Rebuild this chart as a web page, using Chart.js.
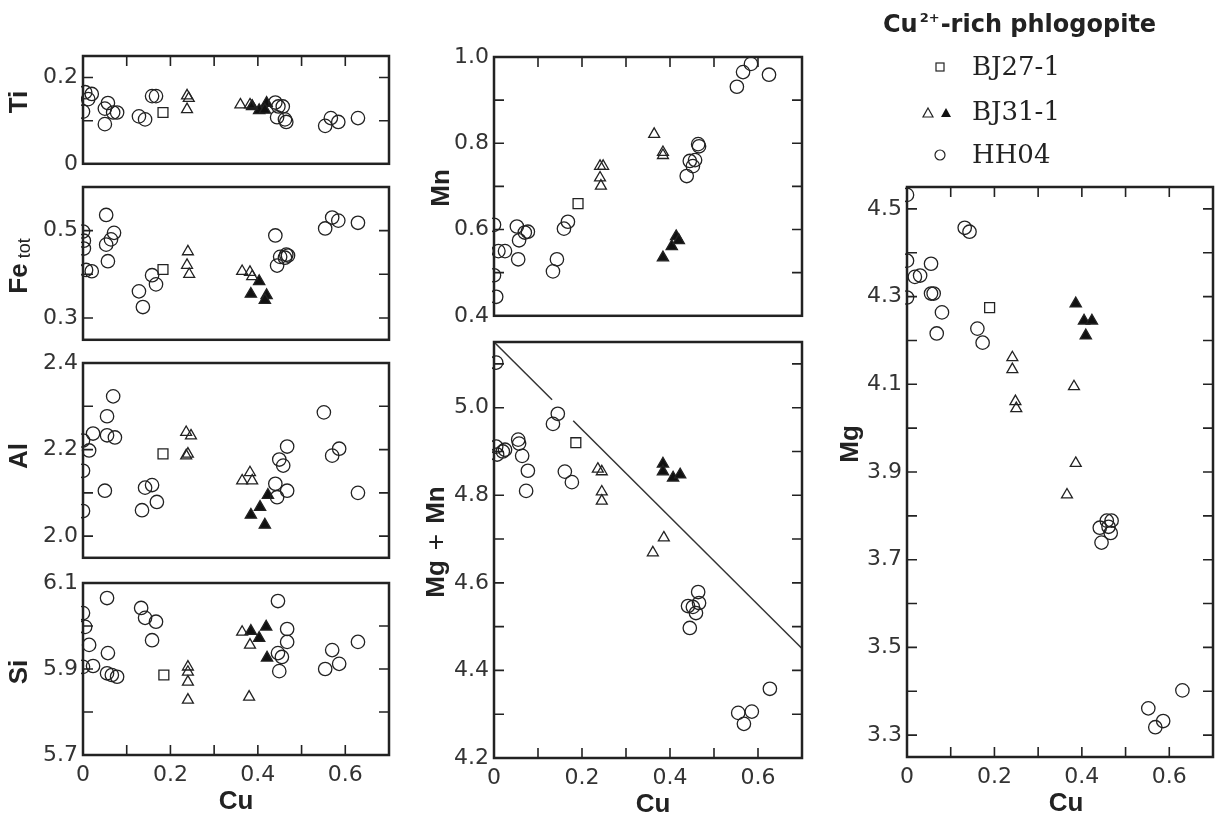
<!DOCTYPE html>
<html>
<head>
<meta charset="utf-8">
<script src="https://cdn.jsdelivr.net/npm/chart.js@4.4.1/dist/chart.umd.min.js"></script>
<style>
  body { margin: 0; background: #fff; width: 1223px; height: 820px; overflow: hidden; position: relative; }
  canvas { position: absolute; }
</style>
</head>
<body>
<canvas id="ti"></canvas>
<canvas id="fe"></canvas>
<canvas id="al"></canvas>
<canvas id="si"></canvas>
<canvas id="mn"></canvas>
<canvas id="mgmn"></canvas>
<canvas id="mg"></canvas>
<script>
// Cu axis (shared by every panel)
const cuTicks  = [0, 0.1, 0.2, 0.3, 0.4, 0.5, 0.6, 0.7];
const cuLabels = ['0', '', '0.2', '', '0.4', '', '0.6', ''];

// y tick values and labels per panel
const tiTicks = [0, 0.1, 0.2];                 const tiLabels = ['0', '', '0.2'];
const feTicks = [0.3, 0.4, 0.5];               const feLabels = ['0.3', '', '0.5'];
const alTicks = [2.0, 2.1, 2.2, 2.3, 2.4];     const alLabels = ['2.0', '', '2.2', '', '2.4'];
const siTicks = [5.7, 5.8, 5.9, 6.0, 6.1];     const siLabels = ['5.7', '', '5.9', '', '6.1'];
const mnTicks = [0.4, 0.5, 0.6, 0.7, 0.8, 0.9, 1.0];
const mnLabels = ['0.4', '', '0.6', '', '0.8', '', '1.0'];
const mgmnTicks = [4.2, 4.3, 4.4, 4.5, 4.6, 4.7, 4.8, 4.9, 5.0, 5.1];
const mgmnLabels = ['4.2', '', '4.4', '', '4.6', '', '4.8', '', '5.0', ''];
const mgTicks = [3.3, 3.4, 3.5, 3.6, 3.7, 3.8, 3.9, 4.0, 4.1, 4.2, 4.3, 4.4, 4.5];
const mgLabels = ['3.3', '', '3.5', '', '3.7', '', '3.9', '', '4.1', '', '4.3', '', '4.5'];

// Ti
const tiHH04 = [[0.005,0.166],[0.02,0.162],[0.012,0.15],[0,0.121],[0.057,0.141],[0.05,0.128],[0.069,0.119],[0.078,0.119],[0.05,0.092],[0.128,0.11],[0.142,0.103],[0.158,0.157],[0.167,0.157],[0.44,0.142],[0.457,0.133],[0.447,0.133],[0.444,0.108],[0.465,0.097],[0.462,0.103],[0.554,0.088],[0.567,0.106],[0.584,0.097],[0.629,0.106]];
const tiBJ27 = [[0.183,0.119]];
const tiBJ31open = [[0.238,0.158],[0.242,0.152],[0.238,0.126],[0.36,0.137],[0.382,0.137],[0.387,0.134]];
const tiBJ31fill = [[0.387,0.133],[0.403,0.124],[0.42,0.141],[0.416,0.125]];

// Fe tot
const feHH04 = [[0,0.498],[0.002,0.477],[0.002,0.459],[0.007,0.41],[0.02,0.407],[0.053,0.536],[0.071,0.495],[0.064,0.48],[0.053,0.468],[0.057,0.43],[0.128,0.361],[0.137,0.325],[0.158,0.398],[0.167,0.377],[0.44,0.489],[0.444,0.42],[0.451,0.44],[0.465,0.445],[0.462,0.438],[0.469,0.443],[0.554,0.505],[0.57,0.53],[0.584,0.523],[0.629,0.518]];
const feBJ27 = [[0.183,0.411]];
const feBJ31open = [[0.24,0.452],[0.238,0.421],[0.243,0.4],[0.364,0.407],[0.382,0.405],[0.387,0.395]];
const feBJ31fill = [[0.403,0.384],[0.384,0.355],[0.42,0.352],[0.416,0.341]];

// Al
const alHH04 = [[0,2.221],[0.014,2.198],[0,2.151],[0,2.058],[0.023,2.237],[0.069,2.323],[0.055,2.277],[0.055,2.233],[0.073,2.228],[0.05,2.105],[0.135,2.06],[0.142,2.112],[0.158,2.118],[0.169,2.079],[0.467,2.207],[0.449,2.177],[0.458,2.163],[0.44,2.121],[0.444,2.09],[0.467,2.105],[0.551,2.286],[0.57,2.186],[0.586,2.202],[0.629,2.1]];
const alBJ27 = [[0.183,2.19]];
const alBJ31open = [[0.236,2.24],[0.247,2.232],[0.236,2.186],[0.24,2.19],[0.364,2.128],[0.382,2.147],[0.387,2.128]];
const alBJ31fill = [[0.384,2.049],[0.405,2.067],[0.423,2.095],[0.416,2.026]];

// Si
const siHH04 = [[0,6.03],[0.005,5.998],[0.014,5.956],[0,5.905],[0.023,5.907],[0.055,6.065],[0.057,5.937],[0.055,5.89],[0.066,5.886],[0.078,5.882],[0.133,6.042],[0.142,6.019],[0.167,6.01],[0.158,5.967],[0.446,6.058],[0.467,5.993],[0.467,5.963],[0.446,5.937],[0.455,5.928],[0.449,5.895],[0.554,5.9],[0.57,5.944],[0.586,5.912],[0.629,5.963]];
const siBJ27 = [[0.185,5.886]];
const siBJ31open = [[0.24,5.905],[0.24,5.893],[0.24,5.87],[0.24,5.828],[0.364,5.986],[0.382,5.956],[0.38,5.835]];
const siBJ31fill = [[0.384,5.988],[0.403,5.972],[0.419,5.998],[0.421,5.926]];

// Mn
const mnHH04 = [[0,0.611],[0,0.494],[0.005,0.444],[0.01,0.55],[0.025,0.55],[0.052,0.607],[0.055,0.531],[0.057,0.575],[0.07,0.593],[0.077,0.595],[0.134,0.503],[0.143,0.531],[0.159,0.602],[0.168,0.618],[0.438,0.724],[0.445,0.759],[0.452,0.747],[0.457,0.761],[0.464,0.798],[0.466,0.793],[0.552,0.931],[0.566,0.965],[0.584,0.984],[0.625,0.959]];
const mnBJ27 = [[0.191,0.66]];
const mnBJ31open = [[0.241,0.747],[0.248,0.747],[0.241,0.72],[0.243,0.701],[0.364,0.821],[0.384,0.779],[0.384,0.772]];
const mnBJ31fill = [[0.384,0.535],[0.404,0.561],[0.414,0.584],[0.42,0.575]];

// Mg + Mn
const mgmnHH04 = [[0.005,5.103],[0.005,4.911],[0.007,4.893],[0.02,4.9],[0.025,4.904],[0.055,4.927],[0.057,4.918],[0.064,4.89],[0.077,4.856],[0.073,4.81],[0.134,4.963],[0.145,4.986],[0.161,4.854],[0.177,4.83],[0.464,4.579],[0.466,4.554],[0.441,4.547],[0.452,4.545],[0.459,4.531],[0.445,4.497],[0.555,4.303],[0.568,4.278],[0.586,4.306],[0.627,4.358]];
const mgmnBJ27 = [[0.186,4.92]];
const mgmnBJ31open = [[0.236,4.86],[0.245,4.854],[0.245,4.808],[0.245,4.787],[0.361,4.669],[0.386,4.703]];
const mgmnBJ31fill = [[0.384,4.872],[0.384,4.854],[0.407,4.84],[0.423,4.847]];
const mgmnLineA = [[0,5.15],[0.132,5.018]];
const mgmnLineB = [[0.18,4.97],[0.7,4.45]];

// Mg
const mgHH04 = [[0,4.532],[0,4.382],[0,4.298],[0.018,4.345],[0.03,4.348],[0.055,4.375],[0.055,4.307],[0.061,4.307],[0.08,4.264],[0.068,4.216],[0.132,4.457],[0.143,4.448],[0.161,4.227],[0.173,4.195],[0.457,3.789],[0.468,3.789],[0.441,3.773],[0.461,3.775],[0.466,3.761],[0.445,3.739],[0.552,3.361],[0.568,3.318],[0.586,3.332],[0.63,3.402]];
const mgBJ27 = [[0.189,4.275]];
const mgBJ31open = [[0.241,4.161],[0.241,4.134],[0.248,4.061],[0.25,4.045],[0.382,4.095],[0.386,3.92],[0.366,3.848]];
const mgBJ31fill = [[0.386,4.284],[0.405,4.245],[0.423,4.245],[0.409,4.211]];

const INK = '#222';
const LABEL_INK = '#333';
const SANS = '"DejaVu Sans", sans-serif';
const BOLD = 'bold 26px "Liberation Sans", Arial, sans-serif';
const TICK_LEN = 10;

const pts = a => a.map(([x, y]) => ({ x, y }));

// Scatter series in the same order for every panel
function markers(hh04, bj27, open, fill) {
    const base = { borderColor: INK, borderWidth: 1.3, clip: 2 };
    return [
        { ...base, data: pts(hh04), pointStyle: 'circle', pointRadius: 6.7, backgroundColor: 'rgba(0,0,0,0)' },
        { ...base, data: pts(bj27), pointStyle: 'rect', pointRadius: 7, backgroundColor: 'rgba(0,0,0,0)' },
        { ...base, data: pts(open), pointStyle: 'triangle', pointRadius: 6.3, backgroundColor: 'rgba(0,0,0,0)' },
        { ...base, data: pts(fill), pointStyle: 'triangle', pointRadius: 6.5, backgroundColor: '#111' }
    ];
}

// Vertical (rotated) axis title, made of parts so Fe can carry its subscript
function verticalTitle(ctx, parts, cx, cy) {
    ctx.save();
    ctx.translate(cx, cy);
    ctx.rotate(-Math.PI / 2);
    ctx.fillStyle = INK;
    ctx.textBaseline = 'middle';
    ctx.textAlign = 'left';
    let total = 0;
    parts.forEach(p => { ctx.font = p.font; p.w = ctx.measureText(p.text).width; total += p.w + (p.gap || 0); });
    let x = -total / 2;
    parts.forEach(p => { ctx.font = p.font; x += (p.gap || 0); ctx.fillText(p.text, x, p.dy || 0); x += p.w; });
    ctx.restore();
}

function makePanel(id, box, cfg) {
    const canvas = document.getElementById(id);
    const W = box.R - box.L + box.ml + box.mr;
    const H = box.B - box.T + box.mt + box.mb;
    canvas.width = W; canvas.height = H;
    canvas.style.left = (box.L - box.ml) + 'px';
    canvas.style.top = (box.T - box.mt) + 'px';
    canvas.style.width = W + 'px'; canvas.style.height = H + 'px';
    const ox = box.L - box.ml, oy = box.T - box.mt; // page offset of this canvas

    const framePlugin = {
        id: 'frame',
        afterDraw(chart) {
            const { ctx, chartArea: a, scales: { x, y } } = chart;
            ctx.save();
            ctx.strokeStyle = INK;
            ctx.lineWidth = 1.6;
            ctx.beginPath();
            cfg.yTicks.forEach(v => {
                const py = y.getPixelForValue(v);
                ctx.moveTo(a.left, py); ctx.lineTo(a.left + TICK_LEN, py);
                ctx.moveTo(a.right, py); ctx.lineTo(a.right - TICK_LEN, py);
            });
            cuTicks.forEach(v => {
                const px = x.getPixelForValue(v);
                if (cfg.topTicks) { ctx.moveTo(px, a.top); ctx.lineTo(px, a.top + TICK_LEN); }
                if (cfg.bottomTicks) { ctx.moveTo(px, a.bottom); ctx.lineTo(px, a.bottom - TICK_LEN); }
            });
            ctx.stroke();
            ctx.lineWidth = 2.5;
            ctx.strokeRect(a.left, a.top, a.right - a.left, a.bottom - a.top);

            verticalTitle(ctx, cfg.yTitle, cfg.yTitleAt[0] - ox, cfg.yTitleAt[1] - oy);
            if (cfg.xTitle) {
                ctx.fillStyle = INK;
                ctx.font = BOLD;
                ctx.textAlign = 'center';
                ctx.textBaseline = 'middle';
                ctx.fillText('Cu', (a.left + a.right) / 2 + (cfg.xTitleDx || 0), a.bottom + 47);
            }
            if (cfg.extraDraw) cfg.extraDraw(ctx, ox, oy);
            ctx.restore();
        }
    };

    return new Chart(canvas, {
        type: 'scatter',
        data: { datasets: (cfg.lines || []).concat(cfg.datasets) },
        options: {
            responsive: false,
            maintainAspectRatio: false,
            animation: false,
            events: [],
            layout: { padding: { left: 0, top: box.mt, right: box.mr, bottom: 0 } },
            plugins: { legend: { display: false }, tooltip: { enabled: false } },
            scales: {
                x: {
                    type: 'linear', min: 0, max: 0.7,
                    afterBuildTicks: s => { s.ticks = cuTicks.map(v => ({ value: v })); },
                    afterFit: s => { s.height = box.mb; },
                    grid: { display: false, drawTicks: false },
                    border: { display: false },
                    ticks: {
                        display: !!cfg.xTitle,
                        padding: 7,
                        color: LABEL_INK,
                        font: { family: SANS, size: 22 },
                        maxRotation: 0, autoSkip: false,
                        callback: (v, i) => cuLabels[i]
                    }
                },
                y: {
                    type: 'linear', min: cfg.yMin, max: cfg.yMax,
                    afterBuildTicks: s => { s.ticks = cfg.yTicks.map(v => ({ value: v })); },
                    afterFit: s => { s.width = box.ml; },
                    grid: { display: false, drawTicks: false },
                    border: { display: false },
                    ticks: {
                        padding: 5,
                        color: LABEL_INK,
                        font: { family: SANS, size: 22 },
                        autoSkip: false,
                        callback: (v, i) => cfg.yLabels[i]
                    }
                }
            }
        },
        plugins: [framePlugin]
    });
}

const titleFont = BOLD;
const leftBox = { L: 83, R: 389, ml: 83, mr: 10 };

makePanel('ti', { ...leftBox, T: 56, B: 166, mt: 20, mb: 16 }, {
    yMin: 0, yMax: 0.25, yTicks: tiTicks, yLabels: tiLabels, topTicks: true,
    yTitle: [{ text: 'Ti', font: titleFont }], yTitleAt: [20, 102],
    datasets: markers(tiHH04, tiBJ27, tiBJ31open, tiBJ31fill)
});

makePanel('fe', { ...leftBox, T: 187, B: 342, mt: 20, mb: 16 }, {
    yMin: 0.25, yMax: 0.6, yTicks: feTicks, yLabels: feLabels,
    yTitle: [{ text: 'Fe', font: titleFont }, { text: 'tot', font: '18px "Liberation Sans", Arial, sans-serif', dy: 5, gap: 5 }],
    yTitleAt: [20, 266],
    datasets: markers(feHH04, feBJ27, feBJ31open, feBJ31fill)
});

makePanel('al', { ...leftBox, T: 363, B: 560, mt: 20, mb: 16 }, {
    yMin: 1.95, yMax: 2.4, yTicks: alTicks, yLabels: alLabels,
    yTitle: [{ text: 'Al', font: titleFont }], yTitleAt: [20, 456],
    datasets: markers(alHH04, alBJ27, alBJ31open, alBJ31fill)
});

makePanel('si', { ...leftBox, T: 583, B: 755, mt: 20, mb: 65 }, {
    yMin: 5.7, yMax: 6.1, yTicks: siTicks, yLabels: siLabels, bottomTicks: true, xTitle: true,
    yTitle: [{ text: 'Si', font: titleFont }], yTitleAt: [20, 672],
    datasets: markers(siHH04, siBJ27, siBJ31open, siBJ31fill)
});

const midBox = { L: 494, R: 802, ml: 79, mr: 10 };

makePanel('mn', { ...midBox, T: 57, B: 318, mt: 20, mb: 16 }, {
    yMin: 0.4, yMax: 1.0, yTicks: mnTicks, yLabels: mnLabels, topTicks: true,
    yTitle: [{ text: 'Mn', font: titleFont }], yTitleAt: [442, 188],
    datasets: markers(mnHH04, mnBJ27, mnBJ31open, mnBJ31fill)
});

const lineStyle = { showLine: true, pointRadius: 0, borderColor: '#333', borderWidth: 1.5, clip: 0 };
makePanel('mgmn', { ...midBox, T: 342, B: 758, mt: 20, mb: 62 }, {
    yMin: 4.2, yMax: 5.15, yTicks: mgmnTicks, yLabels: mgmnLabels, bottomTicks: true, xTitle: true, xTitleDx: 5,
    yTitle: [
        { text: 'Mg', font: titleFont },
        { text: '+', font: '28px "Liberation Sans", Arial, sans-serif', gap: 10 },
        { text: 'Mn', font: titleFont, gap: 10 }
    ],
    yTitleAt: [437, 542],
    lines: [{ ...lineStyle, data: pts(mgmnLineA) }, { ...lineStyle, data: pts(mgmnLineB) }],
    datasets: markers(mgmnHH04, mgmnBJ27, mgmnBJ31open, mgmnBJ31fill)
});

// Legend sits above the Mg panel, drawn on its canvas
function drawLegend(ctx, ox, oy) {
    const X = v => v - ox, Y = v => v - oy;
    ctx.fillStyle = INK;
    ctx.textBaseline = 'middle';
    ctx.textAlign = 'left';
    // title: Cu2+-rich phlogopite
    const big = 'bold 24px "DejaVu Sans", sans-serif';
    let x = X(883);
    const ty = Y(26);
    ctx.font = big;
    ctx.fillText('Cu', x, ty); x += ctx.measureText('Cu').width + 2;
    ctx.font = 'bold 13px "DejaVu Sans", sans-serif';
    ctx.fillText('2+', x, ty - 7); x += ctx.measureText('2+').width + 1;
    ctx.font = big;
    ctx.fillText('-rich phlogopite', x, ty);

    ctx.strokeStyle = INK;
    ctx.lineWidth = 1.2;
    // square
    ctx.strokeRect(X(936), Y(63), 8, 8);
    // triangles
    const tri = (cx, cy, fill) => {
        ctx.beginPath();
        ctx.moveTo(X(cx), Y(cy - 5)); ctx.lineTo(X(cx + 5), Y(cy + 4)); ctx.lineTo(X(cx - 5), Y(cy + 4)); ctx.closePath();
        if (fill) { ctx.fillStyle = '#111'; ctx.fill(); } else ctx.stroke();
    };
    tri(928, 113, false);
    tri(946, 113, true);
    // circle
    ctx.beginPath(); ctx.arc(X(940), Y(155), 5, 0, Math.PI * 2); ctx.stroke();

    ctx.fillStyle = INK;
    ctx.font = '26px "DejaVu Serif", serif';
    ctx.fillText('BJ27-1', X(972), Y(68));
    ctx.fillText('BJ31-1', X(972), Y(113));
    ctx.fillText('HH04', X(972), Y(156));
}

makePanel('mg', { L: 907, R: 1213, ml: 87, mr: 10, T: 187, B: 757, mt: 187, mb: 63 }, {
    yMin: 3.25, yMax: 4.55, yTicks: mgTicks, yLabels: mgLabels, topTicks: true, bottomTicks: true, xTitle: true, xTitleDx: 6,
    yTitle: [{ text: 'Mg', font: titleFont }], yTitleAt: [851, 444],
    datasets: markers(mgHH04, mgBJ27, mgBJ31open, mgBJ31fill),
    extraDraw: drawLegend
});
</script>
</body>
</html>
